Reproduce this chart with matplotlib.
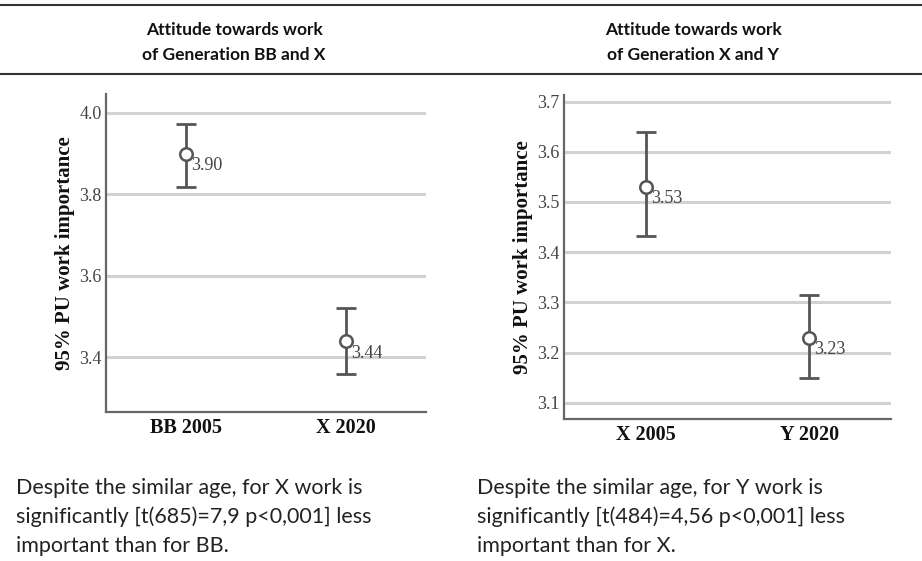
import matplotlib
matplotlib.use("Agg")
import matplotlib.pyplot as plt
from matplotlib.lines import Line2D

# Panel 1: Generation BB vs X
cats_1 = ["BB 2005", "X 2020"]
mean_1 = [3.90, 3.44]
ci_low_1 = [3.818, 3.359]
ci_high_1 = [3.973, 3.521]
yticks_1 = [3.4, 3.6, 3.8, 4.0]
ylim_1 = (3.266, 4.046)

# Panel 2: Generation X vs Y
cats_2 = ["X 2005", "Y 2020"]
mean_2 = [3.53, 3.23]
ci_low_2 = [3.433, 3.149]
ci_high_2 = [3.639, 3.314]
yticks_2 = [3.1, 3.2, 3.3, 3.4, 3.5, 3.6, 3.7]
ylim_2 = (3.068, 3.713)

titles = ["Attitude towards work\nof Generation BB and X",
          "Attitude towards work\nof Generation X and Y"]
notes = ["Despite the similar age, for X work is\nsignificantly [t(685)=7,9 p<0,001] less\nimportant than for BB.",
         "Despite the similar age, for Y work is\nsignificantly [t(484)=4,56 p<0,001] less\nimportant than for X."]

W, H = 922, 561
fig = plt.figure(figsize=(W / 100, H / 100), dpi=100)
fig.patch.set_facecolor("white")

SERIF = "Liberation Serif"
SANS = "Lato"
DARK = "#555555"


def px_rect(left, top, right, bottom):
    return [left / W, 1 - bottom / H, (right - left) / W, (bottom - top) / H]


def draw_panel(rect, cats, mean, lo, hi, yticks, ylim):
    ax = fig.add_axes(rect)
    xs = list(range(len(cats)))
    yerr = [[m - l for m, l in zip(mean, lo)], [h - m for m, h in zip(mean, hi)]]
    ax.errorbar(xs, mean, yerr=yerr, fmt="none", ecolor=DARK, elinewidth=2,
                capsize=7.5, capthick=2, zorder=3)
    ax.plot(xs, mean, linestyle="none", marker="o", markersize=9,
            markerfacecolor="white", markeredgecolor=DARK, markeredgewidth=1.8,
            zorder=4)
    for x, m in zip(xs, mean):
        ax.annotate(f"{m:.2f}", (x, m), xytext=(5, -12), textcoords="offset pixels",
                    ha="left", va="center", fontsize=13, family=SERIF,
                    color="#444444", zorder=5)
    ax.set_xlim(-0.5, 1.5)
    ax.set_ylim(*ylim)
    ax.set_xticks(xs)
    ax.set_xticklabels(cats, family=SERIF, fontweight="bold", fontsize=14.5,
                       color="#111111")
    ax.set_yticks(yticks)
    ax.set_yticklabels([f"{t:.1f}" for t in yticks], family=SERIF, fontsize=13,
                       color="#444444")
    ax.tick_params(axis="both", length=0)
    ax.tick_params(axis="y", pad=3)
    ax.tick_params(axis="x", pad=4.5)
    ax.yaxis.grid(True, color="#d2d2d2", linewidth=2.2)
    ax.set_axisbelow(True)
    for s in ("top", "right"):
        ax.spines[s].set_visible(False)
    for s in ("left", "bottom"):
        ax.spines[s].set_color("#666666")
        ax.spines[s].set_linewidth(1.6)
    ax.set_ylabel("95% PU work importance", family=SERIF, fontweight="bold",
                  fontsize=15, color="#111111", labelpad=3)
    return ax


ax1 = draw_panel(px_rect(106, 94, 426, 412), cats_1, mean_1, ci_low_1, ci_high_1,
                 yticks_1, ylim_1)
ax2 = draw_panel(px_rect(564, 95, 891, 419), cats_2, mean_2, ci_low_2, ci_high_2,
                 yticks_2, ylim_2)

# header rules
for ypx in (5, 74):
    fig.add_artist(Line2D([0, 1], [1 - ypx / H] * 2, color="#333333", linewidth=1.5))

# header titles
for cx, t in zip((234, 693), titles):
    fig.text(cx / W, 1 - 42.5 / H, t, ha="center", va="center", family=SANS,
             fontweight="bold", fontsize=12.5, color="#111111", linespacing=1.7)

# notes under each panel
for lx, t in zip((16, 477), notes):
    fig.text(lx / W, 1 - 517 / H, t, ha="left", va="center", family=SANS,
             fontsize=15.5, color="#222222", linespacing=1.52)

fig.savefig("out.png", dpi=100, facecolor="white")
